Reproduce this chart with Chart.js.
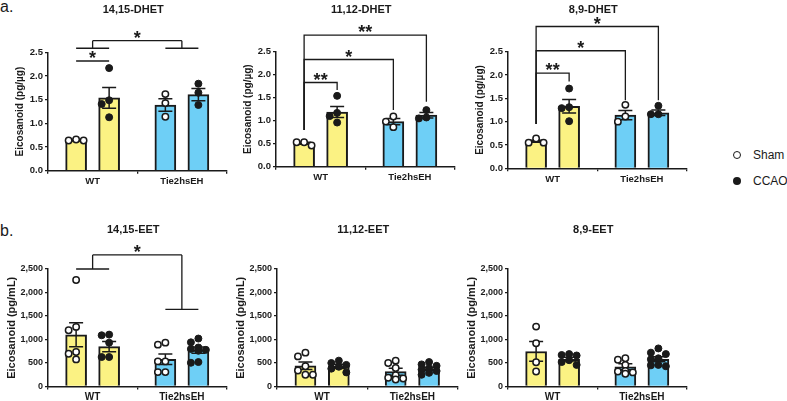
<!DOCTYPE html>
<html>
<head>
<meta charset="utf-8">
<script src="https://cdn.jsdelivr.net/npm/chart.js@4.4.0/dist/chart.umd.min.js"></script>
<style>
  body { margin: 0; width: 787px; height: 401px; background: #fff; position: relative; overflow: hidden;
         font-family: Arial, "Liberation Sans", Helvetica, sans-serif; color: #1a1a1a; }
  canvas { position: absolute; }
  .tag { position: absolute; left: 0; font-size: 16px; }
  .lg { position: absolute; left: 733px; font-size: 12px; line-height: 14px; white-space: nowrap; }
  .dot { display: inline-block; box-sizing: border-box; width: 8px; height: 8px; border-radius: 50%;
         background: #1a1a1a; margin-right: 12px; vertical-align: 0px; }
  .dot.open { background: #fff; border: 1.6px solid #1a1a1a; }
</style>
</head>
<body>
<div class="tag" style="top:-2px">a.</div>
<div class="tag" style="top:222px">b.</div>
<div class="lg" style="top:148px"><span class="dot open"></span>Sham</div>
<div class="lg" style="top:174px"><span class="dot"></span>CCAO</div>

<canvas id="p1"></canvas>
<canvas id="p2"></canvas>
<canvas id="p3"></canvas>
<canvas id="p4"></canvas>
<canvas id="p5"></canvas>
<canvas id="p6"></canvas>

<script>
const groups = ['WT', 'Tie2hsEH'];

// 14,15-DHET (pg/ug)
const dhet1415ShamMean = [0.65, 1.39];
const dhet1415ShamSem = [0.01, 0.13];
const dhet1415CcaoMean = [1.54, 1.61];
const dhet1415CcaoSem = [0.22, 0.13];
const dhet1415ShamPts = [[0.66, 0.64, 0.64], [1.62, 1.43, 1.14]];
const dhet1415CcaoPts = [[2.17, 1.49, 1.41, 1.13], [1.84, 1.65, 1.39]];

// 11,12-DHET (pg/ug)
const dhet1112ShamMean = [0.51, 0.98];
const dhet1112ShamSem = [0.02, 0.07];
const dhet1112CcaoMean = [1.19, 1.12];
const dhet1112CcaoSem = [0.12, 0.06];
const dhet1112ShamPts = [[0.53, 0.53, 0.46], [1.09, 0.98, 0.86]];
const dhet1112CcaoPts = [[1.54, 1.17, 1.10, 0.96], [1.23, 1.07, 1.05]];

// 8,9-DHET (pg/ug)
const dhet89ShamMean = [0.58, 1.14];
const dhet89ShamSem = [0.02, 0.10];
const dhet89CcaoMean = [1.33, 1.19];
const dhet89CcaoSem = [0.145, 0.06];
const dhet89ShamPts = [[0.64, 0.55, 0.55], [1.36, 1.11, 1.00]];
const dhet89CcaoPts = [[1.71, 1.31, 1.29, 1.01], [1.34, 1.16, 1.16]];

// 14,15-EET (pg/mL)
const eet1415ShamMean = [1100, 580];
const eet1415ShamSem = [255, 110];
const eet1415CcaoMean = [850, 775];
const eet1415CcaoSem = [110, 65];
const eet1415ShamPts = [[2265, 1268, 1197, 734, 698, 577], [933, 890, 534, 534, 306, 306]];
const eet1415CcaoPts = [[1104, 1090, 933, 627, 627], [1020, 940, 830, 800, 780, 760, 520, 505]];

// 11,12-EET (pg/mL)
const eet1112ShamMean = [440, 315];
const eet1112ShamSem = [80, 75];
const eet1112CcaoMean = [430, 375];
const eet1112CcaoSem = [45, 35];
const eet1112ShamPts = [[720, 640, 430, 340, 250, 250], [550, 500, 395, 240, 185, 170, 150]];
const eet1112CcaoPts = [[550, 500, 460, 420, 380, 300], [520, 470, 440, 390, 360, 330, 290, 250]];

// 8,9-EET (pg/mL)
const eet89ShamMean = [745, 420];
const eet89ShamSem = [210, 65];
const eet89CcaoMean = [580, 580];
const eet89CcaoSem = [40, 55];
const eet89ShamPts = [[1275, 920, 517, 319], [600, 570, 460, 330, 320, 300, 270]];
const eet89CcaoPts = [[690, 670, 660, 560, 520, 460], [810, 720, 690, 600, 580, 460, 450, 430]];

// significance brackets: bar = [group, series], y in data units
const dhet1415Marks = [
  { from: [0, 0], to: [0, 1], y: 2.32, label: '*' },
  { kind: 'group', levels: [2.59, 2.59], top: 2.75, label: '*' }
];
const dhet1112Marks = [
  { from: [0, 0], to: [0, 1], y: 1.83, legs: [0.8, 1.67], label: '**' },
  { from: [0, 0], to: [1, 0], y: 2.33, legs: [0.8, 1.23], label: '*' },
  { from: [0, 0], to: [1, 1], y: 2.86, legs: [0.8, 1.41], label: '**' }
];
const dhet89Marks = [
  { from: [0, 0], to: [0, 1], y: 2.04, legs: [0.95, 1.86], label: '**' },
  { from: [0, 0], to: [1, 0], y: 2.52, legs: [0.95, 1.46], label: '*' },
  { from: [0, 0], to: [1, 1], y: 3.04, legs: [0.95, 1.46], label: '*' }
];
const eet1415Marks = [
  { kind: 'group', levels: [2500, 1640], top: 2800, label: '*' }
];

const INK = '#1a1a1a';
const YELLOW = '#FBF283';
const BLUE = '#6ECFF6';
const PAIR_OFFSET = 0.185;   // sham / CCAO bar shift from the group centre, in group widths
const BAR_PX = 21;
const SPREAD = 7.5;
const MIN_GAP = 6;

Chart.defaults.font.family = 'Arial, "Liberation Sans", Helvetica, sans-serif';
Chart.defaults.color = INK;
Chart.defaults.animation = false;

const errorBars = {
  id: 'errorBars',
  afterDatasetDraw(chart, args) {
    const ds = chart.data.datasets[args.index];
    if (!ds.sem) return;
    const y = chart.scales.y, ctx = chart.ctx;
    ctx.save();
    ctx.strokeStyle = INK;
    ctx.lineWidth = 1.5;
    args.meta.data.forEach((bar, i) => {
      const m = ds.data[i].y;
      const top = y.getPixelForValue(m + ds.sem[i]);
      const bot = y.getPixelForValue(m - ds.sem[i]);
      ctx.beginPath();
      ctx.moveTo(bar.x, top); ctx.lineTo(bar.x, bot);
      ctx.moveTo(bar.x - 7, top); ctx.lineTo(bar.x + 7, top);
      ctx.moveTo(bar.x - 7, bot); ctx.lineTo(bar.x + 7, bot);
      ctx.stroke();
    });
    ctx.restore();
  }
};

const sigMarks = {
  id: 'sigMarks',
  afterDraw(chart, args, opts) {
    const y = chart.scales.y, ctx = chart.ctx;
    const bx = (g, s) => chart.getDatasetMeta(s).data[g].x;
    ctx.save();
    ctx.strokeStyle = INK;
    ctx.fillStyle = INK;
    ctx.lineWidth = 1.3;
    ctx.font = 'bold 18px Arial, "Liberation Sans", sans-serif';
    ctx.textAlign = 'center';
    ctx.textBaseline = 'alphabetic';
    (opts.marks || []).forEach(m => {
      let cx, cy;
      ctx.beginPath();
      if (m.kind === 'group') {
        const gx = [0, 1].map(g => (bx(g, 0) + bx(g, 1)) / 2);
        const top = y.getPixelForValue(m.top);
        m.levels.forEach((lv, g) => {
          const ly = y.getPixelForValue(lv);
          ctx.moveTo(bx(g, 0), ly); ctx.lineTo(bx(g, 1), ly);
          ctx.moveTo(gx[g], ly); ctx.lineTo(gx[g], top);
        });
        ctx.moveTo(gx[0], top); ctx.lineTo(gx[1], top);
        cx = (gx[0] + gx[1]) / 2; cy = top;
      } else {
        const x1 = bx(m.from[0], m.from[1]), x2 = bx(m.to[0], m.to[1]);
        const ly = y.getPixelForValue(m.y);
        ctx.moveTo(x1, m.legs ? y.getPixelForValue(m.legs[0]) : ly);
        ctx.lineTo(x1, ly);
        ctx.lineTo(x2, ly);
        ctx.lineTo(x2, m.legs ? y.getPixelForValue(m.legs[1]) : ly);
        cx = (x1 + x2) / 2; cy = ly;
      }
      ctx.stroke();
      ctx.fillText(m.label, cx, cy + 3);
    });
    ctx.restore();
  }
};

const panelTitle = {
  id: 'panelTitle',
  afterDraw(chart, args, opts) {
    if (!opts.text) return;
    const { ctx, chartArea } = chart;
    ctx.save();
    ctx.font = 'bold 11px Arial, "Liberation Sans", sans-serif';
    ctx.fillStyle = INK;
    ctx.textAlign = 'center';
    ctx.textBaseline = 'middle';
    ctx.fillText(opts.text, (chartArea.left + chartArea.right) / 2 - 4, opts.y);
    ctx.restore();
  }
};

Chart.register(errorBars, sigMarks, panelTitle);

// spread the dots of each bar sideways so they overlap as little as possible
function placePoints(chart, shamPts, ccaoPts) {
  const ys = chart.scales.y, xs = chart.scales.x;
  [shamPts, ccaoPts].forEach((perGroup, s) => {
    const bars = chart.getDatasetMeta(s).data;
    chart.data.datasets[s + 2].data = perGroup.flatMap((vals, g) => {
      const placed = [];
      return vals.slice().sort((a, b) => b - a).map(v => {
        const py = ys.getPixelForValue(v);
        const clearance = dx => placed.reduce((m, p) => Math.min(m, Math.hypot(p.dx - dx, p.py - py)), Infinity);
        const tries = [0, -SPREAD, SPREAD];
        let dx = tries.find(t => clearance(t) >= MIN_GAP);
        if (dx === undefined) dx = tries.reduce((best, t) => clearance(t) > clearance(best) ? t : best);
        placed.push({ dx, py });
        return { x: xs.getValueForPixel(bars[g].x + dx), y: v };
      });
    });
  });
  chart.update('none');
}

function barData(means, shift) {
  return groups.map((g, i) => ({ x: i + shift, y: means[i] }));
}

function makePanel(p) {
  const cv = document.getElementById(p.id);
  cv.width = p.box.w;
  cv.height = p.box.h;
  cv.style.left = p.box.left + 'px';
  cv.style.top = p.box.top + 'px';
  const small = p.max < 10;
  const barStyle = { backgroundColor: [YELLOW, BLUE], borderColor: INK, borderWidth: 2,
                     grouped: false, barThickness: BAR_PX, order: 2 };
  const chart = new Chart(cv, {
    type: 'bar',
    data: {
      datasets: [
        Object.assign({ label: 'Sham', data: barData(p.sham, -PAIR_OFFSET), sem: p.shamSem }, barStyle),
        Object.assign({ label: 'CCAO', data: barData(p.ccao, PAIR_OFFSET), sem: p.ccaoSem }, barStyle),
        { type: 'scatter', label: 'Sham points', data: [], order: 0,
          pointRadius: 3.2, pointBackgroundColor: '#fff', pointBorderColor: INK, pointBorderWidth: 1.5 },
        { type: 'scatter', label: 'CCAO points', data: [], order: 0,
          pointRadius: 3.5, pointBackgroundColor: INK, pointBorderColor: INK, pointBorderWidth: 1 }
      ]
    },
    options: {
      responsive: false,
      events: [],
      layout: { padding: { top: p.box.padTop, right: 5, bottom: 0, left: 0 } },
      plugins: {
        legend: { display: false },
        tooltip: { enabled: false },
        sigMarks: { marks: p.marks },
        panelTitle: { text: p.title, y: p.box.titleY }
      },
      scales: {
        x: {
          type: 'linear', min: -0.5, max: 1.5, offset: false,
          afterBuildTicks: s => { s.ticks = groups.map((g, i) => ({ value: i })); },
          grid: { display: true, drawOnChartArea: false, drawTicks: true, tickLength: 3, color: INK, lineWidth: 1.3 },
          border: { display: true, color: INK, width: 1.5 },
          ticks: { font: { size: small ? 9.5 : 10, weight: 'bold' }, padding: 2, color: INK, maxRotation: 0,
                   autoSkip: false, callback: v => groups[v] },
          afterFit: s => { s.height = p.box.xH; }
        },
        y: {
          min: 0, max: p.max,
          grid: { display: true, drawOnChartArea: false, drawTicks: true, tickLength: 3, color: INK, lineWidth: 1.3 },
          border: { display: true, color: INK, width: 1.5 },
          ticks: {
            stepSize: p.step, padding: 2, color: INK,
            font: { size: small ? 9.5 : 9, weight: 'bold' },
            callback: v => small ? v.toFixed(1) : v.toLocaleString('en-US')
          },
          title: {
            display: true, text: 'Eicosanoid (' + p.unit + ')', color: INK,
            font: { size: small ? 10 : 11, weight: 'bold' },
            padding: { top: p.box.yTitlePad, bottom: 0 }
          },
          afterFit: s => { s.width = 48; }
        }
      }
    }
  });
  placePoints(chart, p.shamPts, p.ccaoPts);
  return chart;
}

const topBox = { top: 0, w: 232, h: 195, titleY: 10, yTitlePad: 14 };
const botBox = { top: 212, w: 232, h: 189, titleY: 18, padTop: 57, xH: 14.5, yTitlePad: 5 };

[
  { id: 'p1', title: '14,15-DHET', unit: 'pg/µg', max: 2.5, step: 0.5,
    sham: dhet1415ShamMean, shamSem: dhet1415ShamSem, ccao: dhet1415CcaoMean, ccaoSem: dhet1415CcaoSem,
    shamPts: dhet1415ShamPts, ccaoPts: dhet1415CcaoPts, marks: dhet1415Marks,
    box: Object.assign({}, topBox, { left: 0, padTop: 52.5, xH: 24.3 }) },
  { id: 'p2', title: '11,12-DHET', unit: 'pg/µg', max: 2.5, step: 0.5,
    sham: dhet1112ShamMean, shamSem: dhet1112ShamSem, ccao: dhet1112CcaoMean, ccaoSem: dhet1112CcaoSem,
    shamPts: dhet1112ShamPts, ccaoPts: dhet1112CcaoPts, marks: dhet1112Marks,
    box: Object.assign({}, topBox, { left: 228, padTop: 51.7, xH: 28.3 }) },
  { id: 'p3', title: '8,9-DHET', unit: 'pg/µg', max: 2.5, step: 0.5,
    sham: dhet89ShamMean, shamSem: dhet89ShamSem, ccao: dhet89CcaoMean, ccaoSem: dhet89CcaoSem,
    shamPts: dhet89ShamPts, ccaoPts: dhet89CcaoPts, marks: dhet89Marks,
    box: Object.assign({}, topBox, { left: 460, padTop: 51.7, xH: 26.7 }) },
  { id: 'p4', title: '14,15-EET', unit: 'pg/mL', max: 2500, step: 500,
    sham: eet1415ShamMean, shamSem: eet1415ShamSem, ccao: eet1415CcaoMean, ccaoSem: eet1415CcaoSem,
    shamPts: eet1415ShamPts, ccaoPts: eet1415CcaoPts, marks: eet1415Marks,
    box: Object.assign({}, botBox, { left: 0 }) },
  { id: 'p5', title: '11,12-EET', unit: 'pg/mL', max: 2500, step: 500,
    sham: eet1112ShamMean, shamSem: eet1112ShamSem, ccao: eet1112CcaoMean, ccaoSem: eet1112CcaoSem,
    shamPts: eet1112ShamPts, ccaoPts: eet1112CcaoPts, marks: [],
    box: Object.assign({}, botBox, { left: 229, w: 234 }) },
  { id: 'p6', title: '8,9-EET', unit: 'pg/mL', max: 2500, step: 500,
    sham: eet89ShamMean, shamSem: eet89ShamSem, ccao: eet89CcaoMean, ccaoSem: eet89CcaoSem,
    shamPts: eet89ShamPts, ccaoPts: eet89CcaoPts, marks: [],
    box: Object.assign({}, botBox, { left: 460 }) }
].forEach(makePanel);
</script>
</body>
</html>
